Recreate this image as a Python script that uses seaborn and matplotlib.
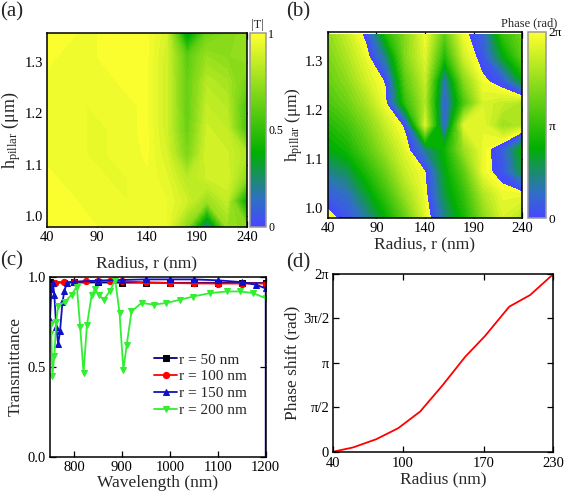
import numpy as np
import matplotlib
matplotlib.use('Agg')
import matplotlib.pyplot as plt
import seaborn as sns
from matplotlib.colors import LinearSegmentedColormap, ListedColormap, BoundaryNorm, Normalize
from matplotlib.cm import ScalarMappable

# ---- data ----
radius_grid = [40, 60, 80, 100, 120, 140, 160, 180, 200, 220, 240]
height_grid = [0.98, 1.03, 1.075, 1.12, 1.17, 1.215, 1.26, 1.31, 1.355]

# (a) |T| map, rows = height_grid (bottom -> top), cols = radius_grid
trans_map = [
    [0.98, 0.98, 0.98, 0.97, 0.96, 0.96, 0.95, 0.72, 0.15, 0.75, 0.70],
    [0.98, 0.98, 0.97, 0.96, 0.95, 0.96, 0.95, 0.88, 0.75, 0.85, 0.35],
    [0.98, 0.97, 0.96, 0.95, 0.95, 0.97, 0.93, 0.82, 0.88, 0.90, 0.72],
    [0.97, 0.97, 0.95, 0.95, 0.96, 0.98, 0.90, 0.68, 0.90, 0.88, 0.80],
    [0.97, 0.96, 0.95, 0.95, 0.97, 0.98, 0.88, 0.63, 0.88, 0.85, 0.55],
    [0.97, 0.96, 0.95, 0.96, 0.97, 0.98, 0.88, 0.62, 0.85, 0.82, 0.55],
    [0.97, 0.96, 0.96, 0.97, 0.98, 0.98, 0.88, 0.62, 0.82, 0.78, 0.65],
    [0.98, 0.97, 0.97, 0.98, 0.98, 0.98, 0.88, 0.60, 0.75, 0.72, 0.75],
    [0.98, 0.98, 0.97, 0.98, 0.98, 0.98, 0.90, 0.30, 0.65, 0.70, 0.75],
]

# (b) phase map (unwrapped, in units of pi); shown modulo 2*pi
phase_map_pi = [
    [-0.12, 0.08, 0.36, 0.76, 1.24, 1.80, 2.40, 2.85, 3.40, 3.80, 3.60],
    [0.16, 0.28, 0.64, 1.04, 1.52, 1.90, 2.60, 3.00, 3.60, 3.90, 3.90],
    [0.40, 0.54, 0.90, 1.28, 1.72, 1.96, 2.70, 3.20, 3.90, 4.10, 4.60],
    [0.70, 0.84, 1.16, 1.52, 1.86, 2.40, 2.80, 3.50, 3.90, 4.15, 4.80],
    [0.90, 1.06, 1.36, 1.72, 2.04, 3.80, 2.16, 3.84, 3.86, 3.50, 3.60],
    [1.10, 1.28, 1.56, 1.94, 3.00, 3.60, 2.16, 3.10, 3.80, 3.70, 3.60],
    [1.24, 1.44, 1.76, 2.02, 3.20, 3.70, 2.30, 3.40, 3.94, 4.12, 4.70],
    [1.34, 1.60, 1.90, 2.45, 3.40, 3.84, 2.90, 3.76, 4.12, 4.70, 5.20],
    [1.44, 1.72, 2.06, 2.90, 3.40, 3.92, 3.20, 3.92, 4.20, 5.00, 5.30],
]

# (c) transmittance spectra
wl_50 = [750, 800, 850, 900, 950, 1000, 1050, 1100, 1150, 1200]
t_50 = [0.970, 0.968, 0.968, 0.967, 0.967, 0.966, 0.966, 0.966, 0.965, 0.965]

wl_100 = [750, 760, 780, 800, 825, 850, 875, 900, 950, 1000, 1050, 1100, 1150, 1200]
t_100 = [0.950, 0.965, 0.968, 0.970, 0.975, 0.978, 0.978, 0.975, 0.968, 0.965, 0.963, 0.962, 0.962, 0.962]

wl_150 = [750, 753, 756, 759, 763, 767, 771, 776, 780, 785, 800, 850, 900, 950,
          1000, 1050, 1100, 1150, 1180, 1200, 1200]
t_150 = [0.76, 0.93, 0.965, 0.90, 0.72, 0.625, 0.70, 0.86, 0.92, 0.965, 0.972, 0.978,
         0.982, 0.985, 0.985, 0.985, 0.980, 0.970, 0.955, 0.935, 0.0]

wl_200 = [750, 752, 755, 759, 763, 767, 781, 795, 806, 813, 820, 827, 837, 844, 852,
          862, 875, 886, 895, 903, 910, 920, 941, 966, 993, 1021, 1049, 1084, 1119,
          1146, 1174, 1200]
t_200 = [0.68, 0.74, 0.45, 0.56, 0.75, 0.84, 0.86, 0.90, 0.945, 0.72, 0.465, 0.73,
         0.90, 0.93, 0.90, 0.872, 0.92, 0.983, 0.80, 0.483, 0.62, 0.807, 0.854,
         0.845, 0.854, 0.872, 0.89, 0.909, 0.918, 0.918, 0.909, 0.88]

# (d) phase shift vs radius
radius_d = [40, 57, 77, 96, 115, 134, 154, 171, 192, 210, 230]
phase_d = [0.0, 0.15, 0.44, 0.83, 1.42, 2.33, 3.36, 4.09, 5.13, 5.54, 6.28]

# ---- style ----
sns.set_theme(style='ticks')
plt.rcParams['font.family'] = ['Liberation Serif', 'DejaVu Serif']
plt.rcParams['mathtext.fontset'] = 'custom'
plt.rcParams['mathtext.rm'] = 'Liberation Serif'
plt.rcParams['mathtext.it'] = 'Liberation Serif:italic'
plt.rcParams['axes.linewidth'] = 1.1
plt.rcParams['axes.edgecolor'] = 'black'
for k in ['xtick', 'ytick']:
    plt.rcParams[k + '.direction'] = 'in'
    plt.rcParams[k + '.major.size'] = 4
    plt.rcParams[k + '.major.width'] = 0.9
    plt.rcParams[k + '.major.pad'] = 3
    plt.rcParams[k + '.labelsize'] = 10.5
    plt.rcParams[k + '.color'] = 'black'

cmap = LinearSegmentedColormap.from_list(
    'byg', [(0.0, '#4646ff'), (0.14, '#2f70c4'), (0.38, '#00b000'), (1.0, '#ffff30')])

fig = plt.figure(figsize=(5.65, 4.95), dpi=100)
W, H = 565.0, 495.0


def add_ax(x0, y0, x1, y1):
    return fig.add_axes([x0 / W, 1 - y1 / H, (x1 - x0) / W, (y1 - y0) / H])


R, Hh = np.meshgrid(radius_grid, height_grid)

# (a)
ax_a = add_ax(47, 33.3, 247, 226.7)
ax_a.contourf(R, Hh, np.array(trans_map), levels=np.linspace(0, 1, 41), cmap=cmap,
              vmin=0, vmax=1)
ax_a.set_xlim(40, 240)
ax_a.set_ylim(0.98, 1.355)
ax_a.set_xticks([40, 90, 140, 190, 240])
ax_a.set_yticks([1.0, 1.1, 1.2, 1.3])
ax_a.set_yticklabels(['1.0', '1.1', '1.2', '1.3'])
ax_a.tick_params(top=True, right=True)
ax_a.set_xlabel('Radius, r (nm)', fontsize=12.5, labelpad=8)
ax_a.set_ylabel('h$_{\\mathrm{pillar}}$ (\u03bcm)', fontsize=13)
ax_a.yaxis.set_label_coords(-0.122, 0.5)
cax_a = add_ax(249.5, 33.3, 265.5, 226.7)
cb_a = fig.colorbar(ScalarMappable(norm=Normalize(0, 1), cmap=cmap), cax=cax_a)
cb_a.set_ticks([0, 0.5, 1])
cb_a.set_ticklabels(['0', '0.5', '1'])
cb_a.ax.tick_params(labelsize=8.5, length=0, pad=2)
cb_a.outline.set_edgecolor('#999999')
cax_a.set_title('|T|', fontsize=9, pad=4)

# (b): phase drawn modulo 2*pi through a repeating colour table
ax_b = add_ax(327.7, 31.7, 522.3, 218.3)
step = 2.0 / 32
levels_b = np.arange(-0.5, 5.5 + step / 2, step)
mids = (levels_b[:-1] + levels_b[1:]) / 2
cyc = ListedColormap([cmap(float(m % 2.0) / 2.0) for m in mids])
ax_b.contourf(R, Hh, np.array(phase_map_pi), levels=levels_b, cmap=cyc,
              norm=BoundaryNorm(levels_b, cyc.N))
ax_b.set_xlim(40, 240)
ax_b.set_ylim(0.98, 1.36)
ax_b.set_xticks([40, 90, 140, 190, 240])
ax_b.set_yticks([1.0, 1.1, 1.2, 1.3])
ax_b.set_yticklabels(['1.0', '1.1', '1.2', '1.3'])
ax_b.tick_params(top=True, right=True)
ax_b.set_xlabel('Radius, r (nm)', fontsize=12.5, labelpad=1)
ax_b.set_ylabel('h$_{\\mathrm{pillar}}$ (\u03bcm)', fontsize=12.5)
ax_b.yaxis.set_label_coords(-0.115, 0.5)
cax_b = add_ax(528.3, 31.7, 545.5, 218.3)
cb_b = fig.colorbar(ScalarMappable(norm=Normalize(0, 2 * np.pi), cmap=cmap), cax=cax_b)
cb_b.set_ticks([0, np.pi, 2 * np.pi])
cb_b.set_ticklabels(['0', '\u03c0', '2\u03c0'])
cb_b.ax.tick_params(labelsize=9.5, length=0, pad=2)
cb_b.outline.set_edgecolor('#999999')
fig.text(529 / W, 1 - 23 / H, 'Phase (rad)', fontsize=9, ha='center', va='center')

# (c)
ax_c = add_ax(50, 276.7, 265.7, 456.7)
series = [
    (wl_50, t_50, 'r = 50 nm', '#000080', 's', 'black'),
    (wl_100, t_100, 'r = 100 nm', '#ff0000', 'o', '#ff0000'),
    (wl_150, t_150, 'r = 150 nm', '#1010c8', '^', '#1010c8'),
    (wl_200, t_200, 'r = 200 nm', '#33ee33', 'v', '#33ee33'),
]
for wl, tt, lab, col, mk, mcol in series:
    sns.lineplot(x=wl, y=tt, ax=ax_c, color=col, label=lab, marker=mk,
                 markersize=4.5, markerfacecolor=mcol, markeredgecolor=mcol,
                 linewidth=1.3, estimator=None, sort=False)
ax_c.set_xlim(750, 1200)
ax_c.set_ylim(0, 1.0)
ax_c.set_xticks([800, 900, 1000, 1100, 1200])
ax_c.set_yticks([0.0, 0.5, 1.0])
ax_c.set_yticklabels(['0.0', '0.5', '1.0'])
ax_c.tick_params(top=True, right=True)
ax_c.set_xlabel('Wavelength (nm)', fontsize=12.5, labelpad=1)
ax_c.set_ylabel('Transmittance', fontsize=12.5, labelpad=3)
ax_c.legend(loc='upper left', bbox_to_anchor=(0.455, 0.61), frameon=False,
            fontsize=11, handlelength=1.5, handletextpad=0.15, labelspacing=0.2,
            borderaxespad=0)

# (d)
ax_d = add_ax(333.3, 274, 553.3, 451.7)
sns.lineplot(x=radius_d, y=phase_d, ax=ax_d, color='#ff0000', linewidth=1.3,
             estimator=None, sort=False)
ax_d.set_xlim(40, 230)
ax_d.set_ylim(0, 2 * np.pi)
ax_d.set_xticks([40, 100, 170, 230])
ax_d.set_yticks([0, np.pi / 2, np.pi, 3 * np.pi / 2, 2 * np.pi])
ax_d.set_yticklabels(['0', '\u03c0/2', '\u03c0', '3\u03c0/2', '2\u03c0'])
ax_d.tick_params(top=True, right=True)
ax_d.tick_params(axis='x', pad=4)
ax_d.set_xlabel('Radius (nm)', fontsize=12.5, labelpad=1)
ax_d.set_ylabel('Phase shift (rad)', fontsize=12.5, labelpad=2)

# panel letters
for px, py, s in [(0, 2, '(a)'), (286, 2, '(b)'), (0, 251, '(c)'), (286, 253, '(d)')]:
    fig.text(px / W, 1 - py / H, s, fontsize=15, va='top', ha='left')

fig.savefig('out.png', dpi=100)
